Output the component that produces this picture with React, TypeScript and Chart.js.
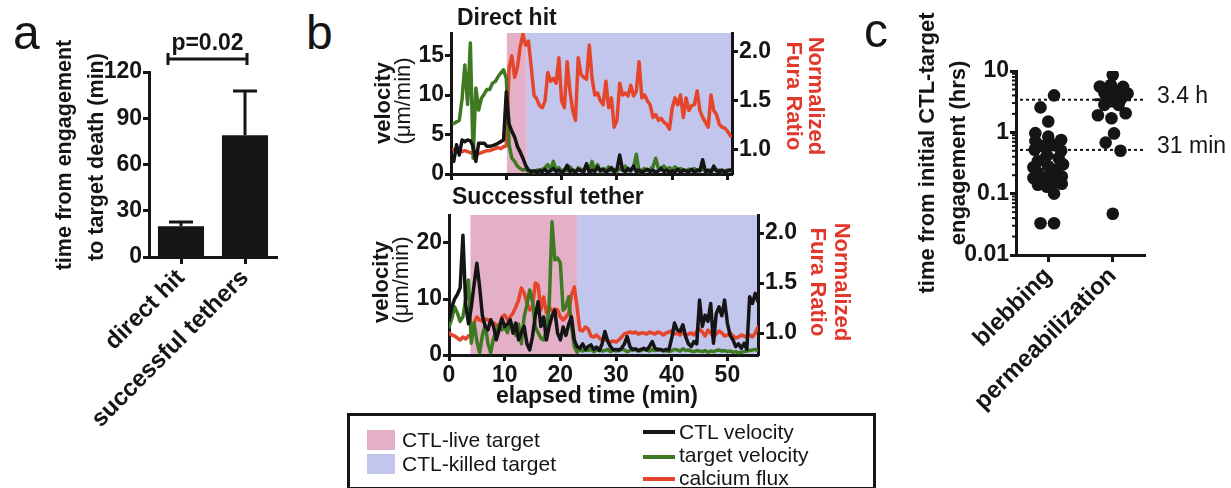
import React, { useEffect, useRef } from 'react';
import { Chart, registerables } from 'chart.js';

Chart.register(...registerables);

const FONT = "'Liberation Sans', Arial, Helvetica, sans-serif";
Chart.defaults.font.family = FONT;

const INK = '#151515';
const RED = '#e5452b';
const TITLE_RED = '#e2382b';
const GREEN = '#3f7a22';
const PINK = '#e3b0c8';
const BLUE = '#c3c6ec';

// ---------------- Panel a ----------------
const aCategories = ['direct hit', 'successful tethers'];
const aMeans = [20, 79];
const aErrors = [2.7, 28.7];
const aTicks = [0, 30, 60, 90, 120];
const aPLabel = 'p=0.02';
const aBracketAt = 128.4;

// ---------------- Panel b ----------------
const T_STEP = 0.5;
const timeTicks = [0, 10, 20, 30, 40, 50];
const topStart = 0.5;
const topMaxT = 50.8;
const topVelTicks = [0, 5, 10, 15];
const topVelMax = 17.85;
const topFuraRange = [0.751, 2.194];
const furaTicks = [1.0, 1.5, 2.0];
const topPhases = [10.1, 13.7, 50.8]; // live start, killed start, end

const topBlack = [
  1.6, 3.7, 2.4, 4.3, 4.1, 4.3, 4.2, 3.5, 1.6, 3.9,
  3.9, 3.9, 3.5, 3.5, 3.6, 3.7, 3.9, 4.1, 4.3, 10.4,
  6.3, 5.4, 4.7, 3.5, 2.8, 2.0, 1.1, 0.5, 0.3, 0.4,
  0.2, 0.5, 0.3, 0.6, 0.2, 0.4, 0.7, 0.3, 0.5, 0.2,
  0.4, 1.1, 0.3, 0.5, 0.2, 0.6, 0.4, 0.3, 1.3, 0.2,
  0.5, 0.3, 0.9, 0.4, 0.6, 0.2, 0.5, 0.8, 0.3, 0.6,
  2.4, 0.5, 0.3, 0.7, 0.4, 1.0, 0.3, 0.5, 0.2, 0.4,
  0.6, 0.3, 0.5, 0.2, 0.4, 0.7, 0.3, 0.5, 0.2, 0.4,
  0.3, 0.6, 0.2, 0.5, 0.4, 0.3, 0.6, 0.2, 0.5, 0.4,
  1.8, 0.3, 0.5, 0.2, 1.0, 0.4, 0.3, 0.5, 0.2, 0.4,
  0.5,
];
const topGreen = [
  6.4, 6.6, 6.8, 9.5, 13.8, 8.8, 16.6, 2.0, 10.9, 8.1,
  9.6, 10.1, 10.7, 10.7, 11.5, 11.7, 12.3, 12.8, 13.2, 12.1,
  3.7, 2.0, 1.6, 1.0, 0.7, 0.5, 0.6, 0.3, 0.4, 0.2,
  0.5, 0.3, 0.6, 0.8, 1.2, 0.5, 1.6, 0.4, 0.8, 0.3,
  0.6, 0.4, 0.9, 0.5, 0.3, 0.8, 0.6, 0.4, 1.1, 0.5,
  1.6, 0.4, 1.2, 0.3, 0.7, 0.5, 0.9, 0.4, 0.6, 0.3,
  0.7, 0.5, 1.0, 0.4, 0.6, 0.8, 2.5, 0.3, 0.5, 0.7,
  0.4, 0.6, 0.9, 2.0, 0.7, 0.8, 1.0, 0.6, 0.8, 0.5,
  0.9, 0.6, 0.7, 0.5, 0.4, 0.6, 0.5, 0.7, 0.4, 0.5,
  0.6, 0.4, 0.3, 0.5, 0.6, 0.4, 0.5, 0.3, 0.4, 0.5,
  0.4,
];
const topRed = [
  1.00, 0.99, 1.00, 0.98, 0.99, 0.98, 0.97, 0.96, 0.97, 0.96,
  0.97, 0.98, 0.99, 0.99, 1.00, 1.01, 1.02, 1.01, 1.03, 1.04,
  1.84, 1.96, 1.74, 1.84, 2.05, 2.18, 2.07, 2.11, 1.85, 1.56,
  1.52, 1.45, 1.43, 1.50, 1.79, 1.70, 1.73, 1.68, 1.94, 1.50,
  1.43, 1.90, 1.60, 1.40, 1.30, 1.94, 1.77, 1.74, 1.72, 2.07,
  1.73, 1.56, 1.58, 1.50, 1.46, 1.70, 1.43, 1.53, 1.23, 1.30,
  1.68, 1.56, 1.58, 1.55, 1.66, 1.55, 1.60, 1.90, 1.53, 1.56,
  1.50, 1.46, 1.33, 1.36, 1.30, 1.32, 1.28, 1.26, 1.21, 1.43,
  1.53, 1.46, 1.56, 1.33, 1.53, 1.40, 1.45, 1.46, 1.60, 1.40,
  1.33, 1.28, 1.23, 1.56, 1.40, 1.36, 1.26, 1.23, 1.22, 1.19,
  1.14,
];

const botStart = 0;
const botMaxT = 55.5;
const botVelTicks = [0, 5, 10, 15, 20, 25];
const botVelMax = 25;
const botFuraRange = [0.78, 2.18];
const botPhases = [3.85, 23.0, 55.5];

const botBlack = [
  6.2, 8.5, 10.0, 10.8, 12.0, 21.4, 9.0, 5.6, 8.5, 12.5,
  16.4, 12.2, 7.0, 5.1, 4.5, 6.3, 5.1, 2.7, 4.5, 6.5,
  5.1, 5.5, 6.3, 3.9, 5.7, 2.7, 4.0, 5.1, 2.0, 0.9,
  3.3, 7.0, 9.5, 5.1, 6.8, 2.7, 5.1, 7.0, 8.0, 3.9,
  2.7, 5.0, 3.5, 5.5, 6.8, 2.7, 1.5, 1.2, 2.0, 1.0,
  1.5, 1.8, 1.0, 1.4, 0.8, 2.0, 4.2, 2.5, 1.5, 0.9,
  1.0, 0.9, 1.2, 2.0, 3.3, 1.5, 0.9, 1.1, 0.8, 1.0,
  1.2, 0.9, 1.5, 2.4, 1.2, 0.9, 1.0, 0.8, 1.0, 0.9,
  3.0, 5.7, 4.5, 4.2, 5.4, 3.3, 2.0, 1.5, 2.4, 2.0,
  9.8, 5.1, 7.1, 6.0, 9.2, 2.1, 7.4, 8.6, 7.0, 9.8,
  5.7, 3.5, 2.7, 1.5, 2.0, 1.2, 2.1, 1.0, 10.4, 9.2, 11.0, 9.5,
];
const botGreen = [
  5.0, 6.5, 8.6, 7.5, 6.0, 6.8, 10.0, 13.4, 2.1, 5.7,
  2.5, 0.4, 3.5, 5.4, 2.0, 0.4, 3.0, 4.0, 5.5, 4.5,
  5.0, 4.0, 6.0, 5.0, 3.5, 5.5, 2.0, 6.8, 9.0, 11.6,
  9.5, 5.1, 4.0, 3.0, 2.7, 4.5, 9.0, 23.8, 17.0, 17.3,
  16.4, 8.0, 8.6, 10.4, 5.1, 1.5, 0.5, 1.0, 0.7, 0.9,
  0.8, 1.0, 0.6, 0.9, 1.1, 0.7, 0.8, 1.0, 0.6, 0.9,
  0.7, 0.8, 1.0, 0.9, 0.6, 0.8, 1.1, 0.9, 0.7, 0.8,
  1.0, 0.9, 0.7, 1.0, 0.8, 1.1, 0.9, 0.7, 0.8, 0.6,
  0.8, 1.0, 0.9, 0.7, 1.1, 0.8, 0.9, 0.7, 0.6, 0.8,
  0.7, 0.6, 0.8, 0.5, 0.7, 0.6, 0.8, 0.9, 0.7, 0.8,
  0.6, 0.7, 0.5, 0.6, 0.4, 0.5, 0.6, 0.7, 0.8, 0.9, 1.0, 0.8,
];
const botRed = [
  1.00, 0.98, 0.97, 0.95, 0.93, 0.96, 0.94, 0.97, 0.98, 1.10,
  1.16, 1.13, 1.12, 1.14, 1.13, 1.11, 1.10, 1.08, 1.06, 1.16,
  1.18, 1.13, 1.16, 1.20, 1.26, 1.33, 1.45, 1.40, 1.30, 1.23,
  1.26, 1.50, 1.48, 1.23, 1.36, 1.20, 1.26, 1.22, 1.24, 1.23,
  1.16, 1.13, 1.16, 1.20, 1.38, 1.46, 1.26, 1.03, 1.02, 1.06,
  1.04, 0.97, 0.96, 0.98, 0.95, 0.93, 0.94, 0.92, 0.91, 0.92,
  0.91, 0.93, 0.96, 0.99, 1.00, 1.01, 1.00, 1.01, 0.99, 1.00,
  1.00, 0.99, 1.01, 1.00, 0.99, 1.01, 1.00, 0.98, 1.00, 1.01,
  1.02, 0.99, 1.00, 0.98, 1.01, 0.97, 0.99, 1.00, 0.98, 1.02,
  1.04, 1.01, 0.97, 1.03, 1.00, 0.96, 0.99, 1.02, 1.00, 0.97,
  0.98, 1.00, 0.97, 0.95, 0.96, 0.98, 0.97, 0.96, 0.98, 0.96, 1.00, 1.06,
];

// ---------------- Panel c ----------------
const cCategories = ['blebbing', 'permeabilization'];
const blebbing = [4.0, 2.55, 1.5, 0.97, 0.85, 0.75, 0.72, 0.62, 0.6, 0.52, 0.5, 0.42, 0.38, 0.34, 0.3,
  0.28, 0.27, 0.25, 0.22, 0.21, 0.19, 0.18, 0.17, 0.155, 0.145, 0.14, 0.13, 0.1, 0.033, 0.033];
const blebJitter = [0.09, -0.12, 0, -0.2, 0, 0.2, -0.2, 0.09, -0.1, -0.21, 0.2, -0.02, 0.16, -0.16, 0.23,
  0, -0.23, 0.13, -0.16, 0.03, 0.21, -0.23, -0.08, 0.1, 0.21, -0.16, -0.02, 0.09, -0.12, 0.09];
const permeabilization = [8.6, 5.6, 5.9, 5.5, 4.4, 4.6, 4.3, 3.6, 3.4, 2.8, 2.8, 1.9, 2.05, 1.7, 0.96, 0.68, 0.5, 0.047];
const permJitter = [0, -0.2, -0.03, 0.16, -0.13, 0.06, 0.23, -0.06, 0.12, -0.13, 0.09, -0.23, 0.2, -0.02, 0.02, -0.11, 0.12, 0];
const cCenters = [0.52, 3.4];
const cErrLow = [0.42, 2.7];
const cErrHigh = [0.66, 4.4];
const cRefValues = [3.4, 0.517];
const cRefLabels = ['3.4 h', '31 min'];
const cTicks = [0.01, 0.1, 1, 10];

// ---------------- helpers ----------------
const setTicks = (vals: number[]) => (scale: any) => {
  scale.ticks = vals.map((v) => ({ value: v }));
};
const grid = { display: true, drawOnChartArea: false, drawTicks: true, tickLength: 6, tickWidth: 3, tickColor: INK, offset: false };
const border = { display: true, width: 3, color: INK };
const tickFont = { family: FONT, size: 23, weight: 'bold' as const };

const series = (vals: number[], start: number) => vals.map((v, i) => ({ x: start + i * T_STEP, y: v }));

const phasePlugin = (bounds: number[]) => ({
  id: 'phases',
  beforeDraw(chart: any) {
    const { ctx, chartArea: a, scales } = chart;
    const x = scales.x;
    const colors = [PINK, BLUE];
    ctx.save();
    for (let i = 0; i < 2; i++) {
      const x0 = x.getPixelForValue(bounds[i]);
      const x1 = x.getPixelForValue(bounds[i + 1]);
      ctx.fillStyle = colors[i];
      ctx.fillRect(x0, a.top, x1 - x0, a.bottom - a.top);
    }
    ctx.restore();
  },
});

const lineDs = (label: string, data: any[], color: string, axis: string, order: number) => ({
  label, data, borderColor: color, backgroundColor: color, yAxisID: axis, order,
  borderWidth: 3.5, pointRadius: 0, tension: 0, borderJoinStyle: 'round', borderCapStyle: 'round', fill: false,
});

function timeConfig(opts: any) {
  return {
    type: 'line',
    data: {
      datasets: [
        lineDs('calcium flux', series(opts.red, opts.start), RED, 'y1', 2),
        lineDs('target velocity', series(opts.green, opts.start), GREEN, 'y', 1),
        lineDs('CTL velocity', series(opts.black, opts.start), INK, 'y', 0),
      ],
    },
    options: {
      animation: false, responsive: false, maintainAspectRatio: false,
      layout: { padding: { top: opts.padTop, left: 0, right: 0, bottom: 0 } },
      plugins: { legend: { display: false }, tooltip: { enabled: false } },
      scales: {
        x: {
          type: 'linear', min: 0, max: opts.maxT,
          afterBuildTicks: setTicks(timeTicks),
          afterFit: (s: any) => { s.height = opts.xH; },
          grid, border,
          ticks: { display: opts.showX, color: INK, font: tickFont, padding: 1, maxRotation: 0, autoSkip: false },
        },
        y: {
          position: 'left', min: 0, max: opts.velMax,
          afterBuildTicks: setTicks(opts.velTicks),
          afterFit: (s: any) => { s.width = opts.yW; },
          grid, border,
          ticks: { color: INK, font: tickFont, padding: 1 },
        },
        y1: {
          position: 'right', min: opts.fura[0], max: opts.fura[1],
          afterBuildTicks: setTicks(furaTicks),
          afterFit: (s: any) => { s.width = opts.y1W; },
          grid, border,
          ticks: { color: INK, font: tickFont, padding: 1, callback: (v: number) => Number(v).toFixed(1) },
        },
      },
    },
    plugins: [phasePlugin(opts.phases)],
  };
}

const aPlugin = {
  id: 'aextras',
  afterDatasetsDraw(chart: any) {
    const { ctx, scales: { y } } = chart;
    const meta = chart.getDatasetMeta(0);
    ctx.save();
    ctx.strokeStyle = INK;
    ctx.lineWidth = 3;
    meta.data.forEach((bar: any, i: number) => {
      const yTop = y.getPixelForValue(aMeans[i] + aErrors[i]);
      const yMid = y.getPixelForValue(aMeans[i]);
      ctx.beginPath();
      ctx.moveTo(bar.x, yMid);
      ctx.lineTo(bar.x, yTop);
      ctx.moveTo(bar.x - 12, yTop);
      ctx.lineTo(bar.x + 12, yTop);
      ctx.stroke();
    });
    const yb = y.getPixelForValue(aBracketAt);
    const x0 = meta.data[0].x - 13;
    const x1 = meta.data[1].x + 2;
    ctx.beginPath();
    ctx.moveTo(x0, yb); ctx.lineTo(x1, yb);
    ctx.moveTo(x0, yb - 6); ctx.lineTo(x0, yb + 6);
    ctx.moveTo(x1, yb - 6); ctx.lineTo(x1, yb + 6);
    ctx.stroke();
    ctx.fillStyle = INK;
    ctx.font = `bold 23px ${FONT}`;
    ctx.textAlign = 'center';
    ctx.textBaseline = 'alphabetic';
    ctx.fillText(aPLabel, (x0 + x1) / 2, yb - 9);
    ctx.restore();
  },
};

const cPlugin = {
  id: 'cextras',
  beforeDatasetsDraw(chart: any) {
    const { ctx, chartArea: a, scales: { y } } = chart;
    ctx.save();
    ctx.strokeStyle = INK;
    ctx.lineWidth = 2;
    ctx.setLineDash([3, 3]);
    cRefValues.forEach((v) => {
      const py = y.getPixelForValue(v);
      ctx.beginPath();
      ctx.moveTo(a.left + 4, py);
      ctx.lineTo(a.right, py);
      ctx.stroke();
    });
    ctx.restore();
  },
  afterDatasetsDraw(chart: any) {
    const { ctx, chartArea: a, scales: { x, y } } = chart;
    ctx.save();
    ctx.strokeStyle = INK;
    ctx.lineWidth = 3;
    cCenters.forEach((c, i) => {
      const px = x.getPixelForValue(i);
      const pc = y.getPixelForValue(c);
      const pl = y.getPixelForValue(cErrLow[i]);
      const ph = y.getPixelForValue(cErrHigh[i]);
      ctx.beginPath();
      ctx.moveTo(px - 18, pc); ctx.lineTo(px + 18, pc);
      ctx.moveTo(px, pl); ctx.lineTo(px, ph);
      ctx.moveTo(px - 8, pl); ctx.lineTo(px + 8, pl);
      ctx.moveTo(px - 8, ph); ctx.lineTo(px + 8, ph);
      ctx.stroke();
    });
    // minor log ticks
    ctx.lineWidth = 2;
    for (let k = -2; k <= 0; k++) {
      for (let m = 2; m <= 9; m++) {
        const py = y.getPixelForValue(m * Math.pow(10, k));
        ctx.beginPath();
        ctx.moveTo(a.left - 4, py);
        ctx.lineTo(a.left, py);
        ctx.stroke();
      }
    }
    ctx.fillStyle = INK;
    ctx.font = `23px ${FONT}`;
    ctx.textAlign = 'left';
    ctx.textBaseline = 'middle';
    cRefValues.forEach((v, i) => {
      ctx.fillText(cRefLabels[i], a.right + 12, y.getPixelForValue(v) - 3);
    });
    ctx.restore();
  },
};

function ChartBox({ left, top, width, height, build }: any) {
  const ref = useRef<HTMLCanvasElement>(null);
  useEffect(() => {
    const chart = new Chart(ref.current as HTMLCanvasElement, build());
    return () => chart.destroy();
  }, []);
  return <canvas ref={ref} width={width} height={height} style={{ position: 'absolute', left, top, width, height }} />;
}

const T = ({ x, base, size, bold, color, center, children }: any) => (
  <div style={{
    position: 'absolute', left: x, top: base - 0.8465 * size, fontFamily: FONT, fontSize: size,
    fontWeight: bold ? 700 : 400, lineHeight: 1, color: color || INK, whiteSpace: 'nowrap',
    transform: center ? 'translateX(-50%)' : undefined,
  }}>{children}</div>
);

const R = ({ cx, cy, size, bold, color, rot, children }: any) => (
  <div style={{
    position: 'absolute', left: cx, top: cy, fontFamily: FONT, fontSize: size,
    fontWeight: bold ? 700 : 400, lineHeight: 1, color: color || INK, whiteSpace: 'nowrap',
    transform: `translate(-50%, -50%) rotate(${rot}deg)`,
  }}>{children}</div>
);

const buildA = () => ({
  type: 'bar',
  data: {
    labels: aCategories,
    datasets: [{ data: aMeans, backgroundColor: INK, borderWidth: 0, barPercentage: 0.72, categoryPercentage: 1 }],
  },
  options: {
    animation: false, responsive: false, maintainAspectRatio: false,
    layout: { padding: { top: 72, right: 23, left: 0, bottom: 0 } },
    plugins: { legend: { display: false }, tooltip: { enabled: false } },
    scales: {
      x: {
        grid: { ...grid, tickLength: 7 }, border,
        ticks: { color: INK, font: { family: FONT, size: 24, weight: 'bold' }, minRotation: 45, maxRotation: 45, padding: 0, autoSkip: false },
        afterFit: (s: any) => { s.height = 231; },
      },
      y: {
        min: 0, max: 120, afterBuildTicks: setTicks(aTicks),
        grid, border, ticks: { color: INK, font: tickFont, padding: 1 },
        afterFit: (s: any) => { s.width = 149; },
      },
    },
  },
  plugins: [aPlugin],
});

const buildTop = () => timeConfig({
  red: topRed, green: topGreen, black: topBlack, start: topStart, maxT: topMaxT,
  velMax: topVelMax, velTicks: topVelTicks, fura: topFuraRange, phases: topPhases,
  padTop: 33, xH: 26, yW: 111, y1W: 88, showX: false,
});

const buildBot = () => timeConfig({
  red: botRed, green: botGreen, black: botBlack, start: botStart, maxT: botMaxT,
  velMax: botVelMax, velTicks: botVelTicks, fura: botFuraRange, phases: botPhases,
  padTop: 25, xH: 55, yW: 109, y1W: 102, showX: true,
});

const buildC = () => ({
  type: 'scatter',
  data: {
    datasets: [
      { data: blebbing.map((v, i) => ({ x: 0 + blebJitter[i], y: v })), backgroundColor: INK, borderWidth: 0, pointRadius: 6.3 },
      { data: permeabilization.map((v, i) => ({ x: 1 + permJitter[i], y: v })), backgroundColor: INK, borderWidth: 0, pointRadius: 6.3 },
    ],
  },
  options: {
    animation: false, responsive: false, maintainAspectRatio: false,
    layout: { padding: { top: 71, right: 86, left: 0, bottom: 0 } },
    plugins: { legend: { display: false }, tooltip: { enabled: false } },
    scales: {
      x: {
        type: 'linear', min: -0.5, max: 1.5, afterBuildTicks: setTicks([0, 1]),
        grid: { ...grid, tickLength: 7 }, border,
        ticks: { color: INK, font: { family: FONT, size: 24, weight: 'bold' }, minRotation: 45, maxRotation: 45, padding: 0, autoSkip: false,
          callback: (v: number) => cCategories[v] ?? '' },
        afterFit: (s: any) => { s.height = 233; },
      },
      y: {
        type: 'logarithmic', min: 0.01, max: 10, afterBuildTicks: setTicks(cTicks),
        grid, border,
        ticks: { color: INK, font: tickFont, padding: 1, callback: (v: number) => String(v) },
        afterFit: (s: any) => { s.width = 146; },
      },
    },
  },
  plugins: [cPlugin],
});

export default function App() {
  return (
    <div style={{ position: 'absolute', left: 0, top: 0, width: 1231, height: 488, overflow: 'hidden', background: '#fff' }}>
      <ChartBox left={0} top={0} width={300} height={488} build={buildA} />
      <ChartBox left={340} top={0} width={480} height={200} build={buildTop} />
      <ChartBox left={340} top={190} width={520} height={220} build={buildBot} />
      <ChartBox left={870} top={0} width={361} height={488} build={buildC} />

      {/* panel letters */}
      <T x={13} base={50} size={48}>a</T>
      <T x={306} base={50} size={48}>b</T>
      <T x={864} base={48} size={48}>c</T>

      {/* panel a title */}
      <R cx={65} cy={155} size={21.5} bold rot={-90}>time from engagement</R>
      <R cx={97} cy={157} size={21.5} bold rot={-90}>to target death (min)</R>

      {/* panel b titles */}
      <T x={457} base={25} size={23} bold>Direct hit</T>
      <T x={452} base={204} size={23} bold>Successful tether</T>
      <R cx={383} cy={103} size={22} bold rot={-90}>velocity</R>
      <R cx={403} cy={101} size={22} rot={-90}>(μm/min)</R>
      <R cx={381} cy={282} size={22} bold rot={-90}>velocity</R>
      <R cx={401} cy={280} size={22} rot={-90}>(μm/min)</R>
      <R cx={816} cy={96} size={22} bold color={TITLE_RED} rot={90}>Normalized</R>
      <R cx={794} cy={96} size={22} bold color={TITLE_RED} rot={90}>Fura Ratio</R>
      <R cx={842} cy={282} size={22} bold color={TITLE_RED} rot={90}>Normalized</R>
      <R cx={818} cy={282} size={22} bold color={TITLE_RED} rot={90}>Fura Ratio</R>
      <T x={597} base={403} size={23} bold center>elapsed time (min)</T>

      {/* legend */}
      <div style={{ position: 'absolute', left: 347, top: 413, width: 529, height: 77, border: `3px solid ${INK}`, boxSizing: 'border-box' }} />
      <div style={{ position: 'absolute', left: 367, top: 430, width: 28, height: 20, background: PINK }} />
      <div style={{ position: 'absolute', left: 367, top: 454, width: 28, height: 20, background: BLUE }} />
      <T x={402} base={447} size={21}>CTL-live target</T>
      <T x={402} base={471} size={21}>CTL-killed target</T>
      <div style={{ position: 'absolute', left: 643, top: 430, width: 32, height: 4, background: INK }} />
      <div style={{ position: 'absolute', left: 643, top: 455, width: 32, height: 4, background: GREEN }} />
      <div style={{ position: 'absolute', left: 643, top: 477, width: 32, height: 4, background: RED }} />
      <T x={679} base={439} size={21}>CTL velocity</T>
      <T x={679} base={462} size={21}>target velocity</T>
      <T x={679} base={485} size={21}>calcium flux</T>

      {/* panel c title */}
      <R cx={927} cy={153} size={22} bold rot={-90}>time from initial CTL-target</R>
      <R cx={958} cy={153} size={22} bold rot={-90}>engagement (hrs)</R>
    </div>
  );
}
